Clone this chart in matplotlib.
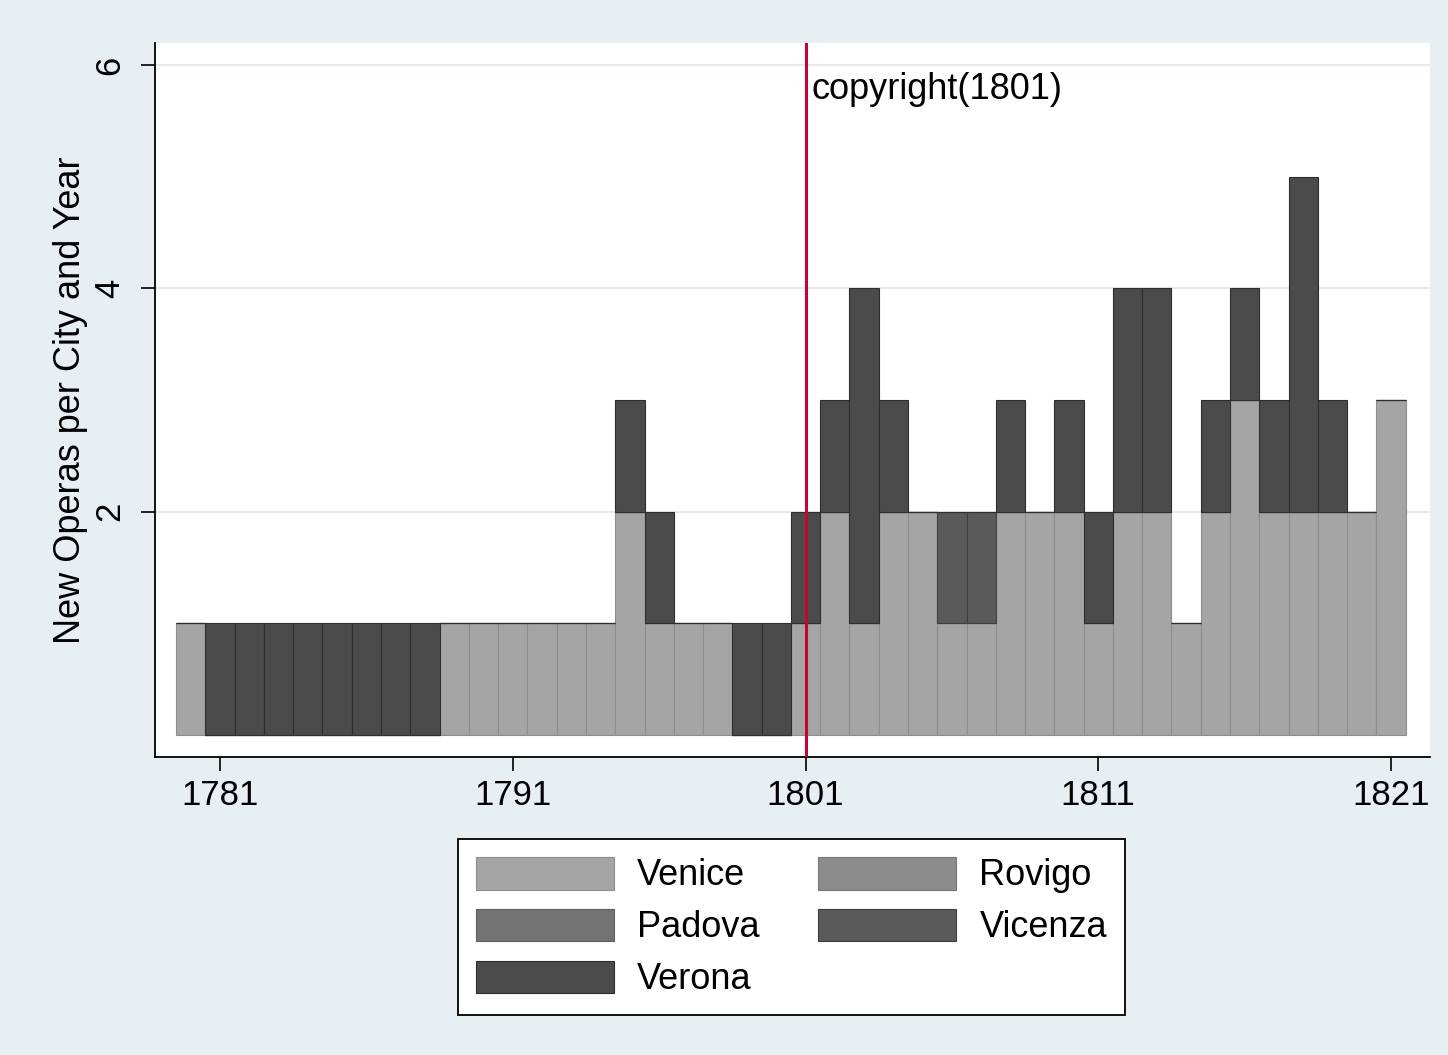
import numpy as np
import matplotlib
matplotlib.use("Agg")
import matplotlib.pyplot as plt
from matplotlib.patches import Patch

plt.rcParams['font.family'] = ['Liberation Sans', 'DejaVu Sans']

years = list(range(1780, 1822))
cities = ["Venice", "Rovigo", "Padova", "Vicenza", "Verona"]
colors = ["#a5a5a5", "#8c8c8c", "#737373", "#5a5a5a", "#4b4b4b"]
edges = ["#8e8e8e", "#777777", "#5f5f5f", "#3f3f3f", "#2e2e2e"]

venice = [1, 0, 0, 0, 0, 0, 0, 0, 0, 1, 1, 1, 1, 1, 1, 2, 1, 1, 1, 0, 0,
          1, 2, 1, 2, 2, 1, 1, 2, 2, 2, 1, 2, 2, 1, 2, 3, 2, 2, 2, 2, 3]
rovigo = [0] * 42
padova = [0] * 42
vicenza = [0] * 42
vicenza[years.index(1806)] = 1
vicenza[years.index(1807)] = 1
verona = [0, 1, 1, 1, 1, 1, 1, 1, 1, 0, 0, 0, 0, 0, 0, 1, 1, 0, 0, 1, 1,
          1, 1, 3, 1, 0, 0, 0, 1, 0, 1, 1, 2, 2, 0, 1, 1, 1, 3, 1, 0, 0]
series = [venice, rovigo, padova, vicenza, verona]

fig = plt.figure(figsize=(14.48, 10.55), dpi=100, facecolor="#e8eff2")
ax = fig.add_axes([155 / 1448, 1 - 757 / 1055, 1275 / 1448, 714 / 1055])
ax.set_facecolor("white")

bottom = np.zeros(len(years))
for name, vals, c, e in zip(cities, series, colors, edges):
    vals = np.array(vals, dtype=float)
    ax.bar(years, vals, width=1.0, bottom=bottom, color=c, edgecolor=e,
           linewidth=0.8, zorder=2)
    bottom += vals

ax.axvline(1801, color="#c10534", linewidth=2.2, zorder=3)
ax.text(1801.2, 5.78, "copyright(1801)", fontsize=26, va="center", ha="left", zorder=4)

ax.set_xlim(1778.78, 1822.33)
ax.set_ylim(-0.2, 6.2)
ax.set_xticks([1781, 1791, 1801, 1811, 1821])
ax.set_yticks([2, 4, 6])
ax.yaxis.grid(True, color="#e4ecef", linewidth=1.6, zorder=0)
ax.set_axisbelow(True)
for s in ["top", "right"]:
    ax.spines[s].set_visible(False)
for s in ["left", "bottom"]:
    ax.spines[s].set_linewidth(1.3)
ax.tick_params(axis="both", length=10, width=1.2, labelsize=25)
ax.tick_params(axis="x", pad=6)
ax.tick_params(axis="y", pad=10.5)
for lab in ax.get_yticklabels():
    lab.set_rotation(90)
    lab.set_va("center")
ax.set_ylabel("New Operas per City and Year", fontsize=26, labelpad=4)

handles = [Patch(facecolor=c, edgecolor=e, linewidth=0.8) for c, e in zip(colors, edges)]
order = [0, 2, 4, 1, 3]
leg = fig.legend([handles[i] for i in order], [cities[i] for i in order],
                 ncol=2, loc="center", bbox_to_anchor=(0.5466, 0.1213),
                 fontsize=26, handlelength=3.82, handleheight=1.02,
                 handletextpad=0.64, columnspacing=1.63, borderpad=0.5,
                 labelspacing=0.42, frameon=True, fancybox=False,
                 edgecolor="black", facecolor="white", framealpha=1)
leg.get_frame().set_linewidth(1.3)

fig.savefig("out.png", dpi=100, facecolor=fig.get_facecolor())
